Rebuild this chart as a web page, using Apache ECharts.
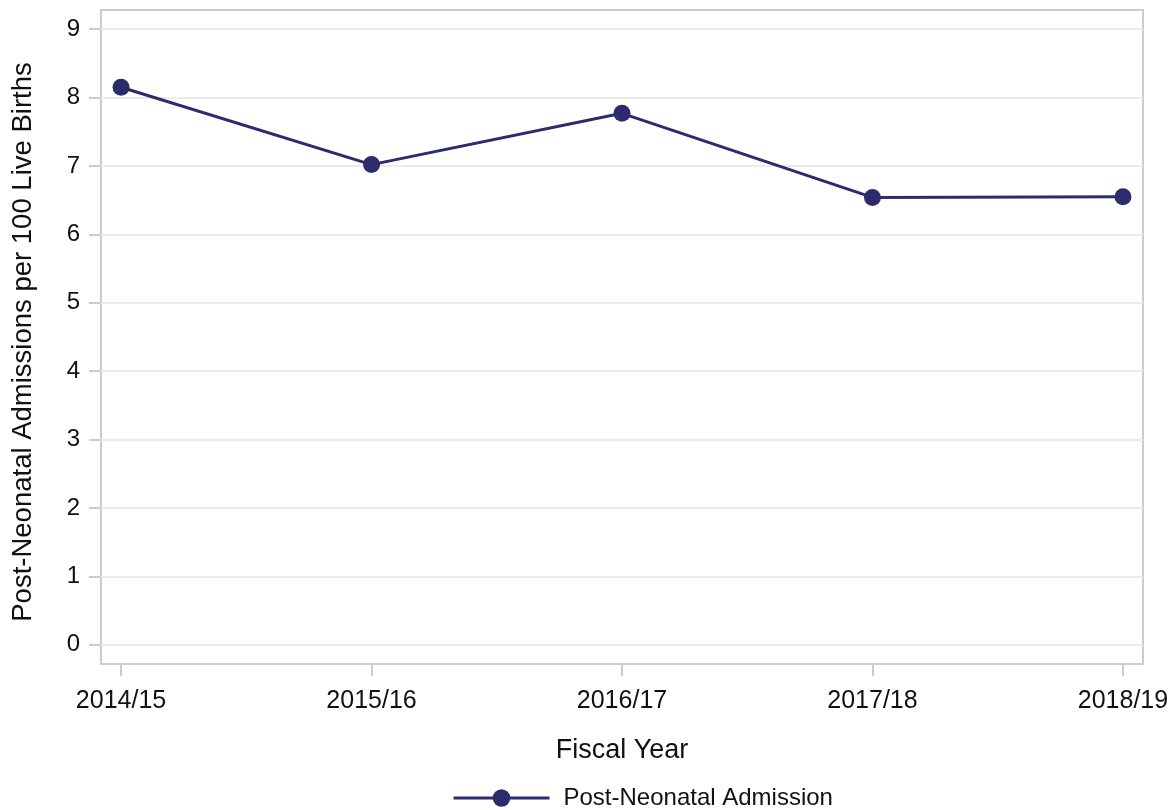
<!DOCTYPE html>
<html>
<head>
<meta charset="utf-8">
<script src="https://cdn.jsdelivr.net/npm/echarts@6/dist/echarts.min.js"></script>
<style>html,body{margin:0;padding:0;background:#fff;}#c{width:1176px;height:810px;}</style>
</head>
<body>
<div id="c"></div>
<script>
var categories = ['2014/15', '2015/16', '2016/17', '2017/18', '2018/19'];
var values = [8.15, 7.02, 7.77, 6.54, 6.55];
var yTicks = [0, 1, 2, 3, 4, 5, 6, 7, 8, 9];
var xTicks = [0, 1, 2, 3, 4];
var seriesName = 'Post-Neonatal Admission';

var chart = echarts.init(document.getElementById('c'));
var font = '"Liberation Sans", Arial, Helvetica, sans-serif';
var lineColor = '#2c2c6c';
chart.setOption({
  animation: false,
  backgroundColor: '#fff',
  textStyle: { fontFamily: font },
  grid: {
    left: 101, right: 33, top: 10, bottom: 146,
    show: true, borderColor: '#cccccc', borderWidth: 2, backgroundColor: 'transparent'
  },
  xAxis: {
    type: 'value',
    min: -0.08, max: 4.08,
    name: 'Fiscal Year',
    nameLocation: 'middle',
    nameGap: 73,
    nameTextStyle: { fontSize: 27, color: '#111', fontFamily: font },
    axisLine: { show: false, onZero: false },
    axisTick: { show: true, length: 12, customValues: xTicks, lineStyle: { color: '#cccccc', width: 2 } },
    axisLabel: {
      customValues: xTicks, fontSize: 25, color: '#111', margin: 25, fontFamily: font,
      formatter: function (v) { return categories[Math.round(v)]; }
    },
    splitLine: { show: false }
  },
  yAxis: {
    type: 'value',
    min: -0.28, max: 9.28,
    name: 'Post-Neonatal Admissions per 100 Live Births',
    nameLocation: 'middle',
    nameGap: 64,
    nameTextStyle: { fontSize: 27.5, color: '#111', fontFamily: font, padding: [0, 10, 0, 0] },
    axisLine: { show: false, onZero: false },
    axisTick: { show: true, length: 12, customValues: yTicks, lineStyle: { color: '#cccccc', width: 2 } },
    axisLabel: { customValues: yTicks, fontSize: 24, color: '#111', margin: 21, fontFamily: font },
    splitLine: { show: true, lineStyle: { color: '#ebebeb', width: 2 } }
  },
  legend: {
    left: 452, top: 786, padding: 0,
    itemWidth: 96, itemHeight: 22,
    lineStyle: { width: 3 },
    textStyle: { fontSize: 24, color: '#111', fontFamily: font, padding: [0, 0, 0, 9] },
    data: [seriesName]
  },
  series: [{
    name: seriesName,
    type: 'line',
    data: values.map(function (v, i) { return [i, v]; }),
    symbol: 'circle',
    symbolSize: 17,
    itemStyle: { color: lineColor },
    lineStyle: { color: lineColor, width: 3 }
  }]
});
</script>
</body>
</html>
